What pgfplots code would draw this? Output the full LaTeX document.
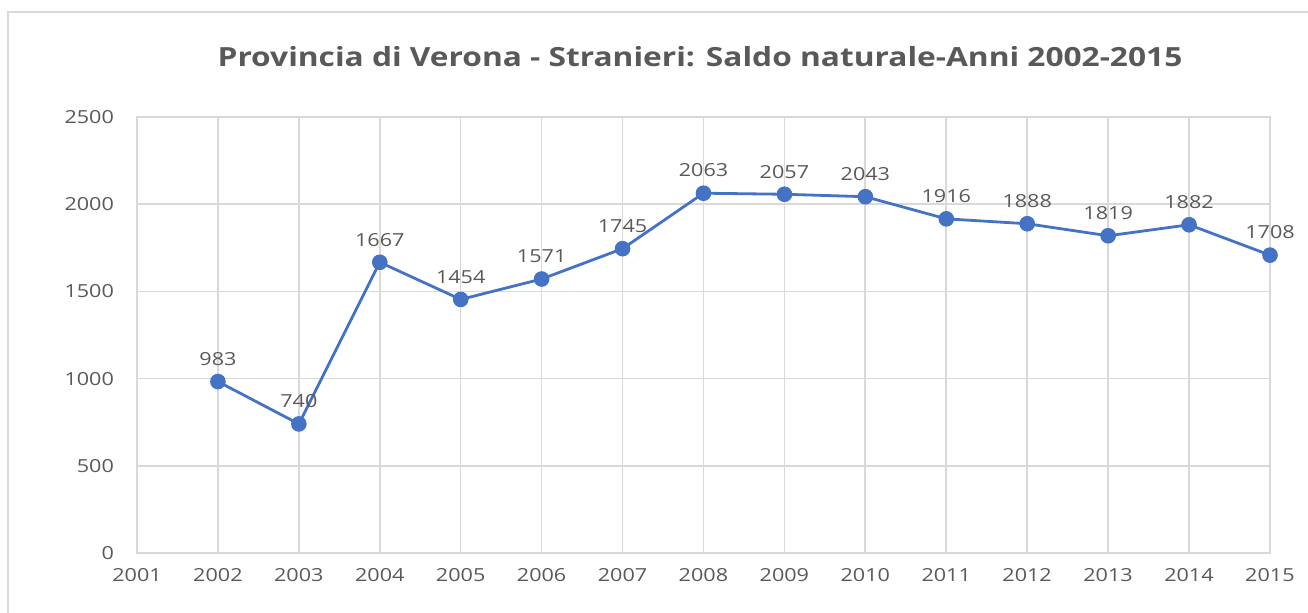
\documentclass[border=0pt]{standalone}
\usepackage{fontspec}
\setmainfont[FakeStretch=1.2]{Open Sans}
\usepackage{pgfplots}
\pgfplotsset{compat=1.18}
\definecolor{txt}{HTML}{595959}
\definecolor{gridc}{HTML}{D9D9D9}
\definecolor{linec}{HTML}{4472C4}
\begin{document}
\begin{tikzpicture}
\path[use as bounding box] (0,0) rectangle (654pt,306pt);
\draw[gridc, line width=1pt] (4pt,-3pt) -- (4pt,300pt) -- (660pt,300pt);
\node[txt, font=\fontsize{13.2}{15}\selectfont\bfseries] at (350pt,277.5pt) {Provincia di Verona - Stranieri: Saldo naturale-Anni 2002-2015};
\begin{axis}[
  at={(68.5pt,29.5pt)}, anchor=south west,
  width=566.5pt, height=218pt, scale only axis,
  xmin=2001, xmax=2015, ymin=0, ymax=2500,
  xtick={2001,...,2015}, ytick={0,500,...,2500},
  /pgf/number format/assume math mode=true,
  xticklabel style={/pgf/number format/1000 sep=, yshift=-4pt},
  yticklabel style={/pgf/number format/1000 sep=, xshift=-8pt},
  tick label style={txt, font=\fontsize{9}{10}\selectfont},
  major tick length=0pt,
  grid=major, major grid style={draw=gridc, line width=0.8pt},
  axis line style={draw=gridc, line width=1pt},
  clip=false,
  nodes near coords,
  every node near coord/.append style={txt, font=\fontsize{9}{10}\selectfont, yshift=4pt, /pgf/number format/1000 sep=},
]
\addplot[linec, line width=1.4pt, mark=*, mark size=3.2pt, mark options={fill=linec, draw=linec}] coordinates {
(2002,983) (2003,740) (2004,1667) (2005,1454) (2006,1571) (2007,1745) (2008,2063) (2009,2057) (2010,2043) (2011,1916) (2012,1888) (2013,1819) (2014,1882) (2015,1708)
};
\end{axis}
\end{tikzpicture}
\end{document}
